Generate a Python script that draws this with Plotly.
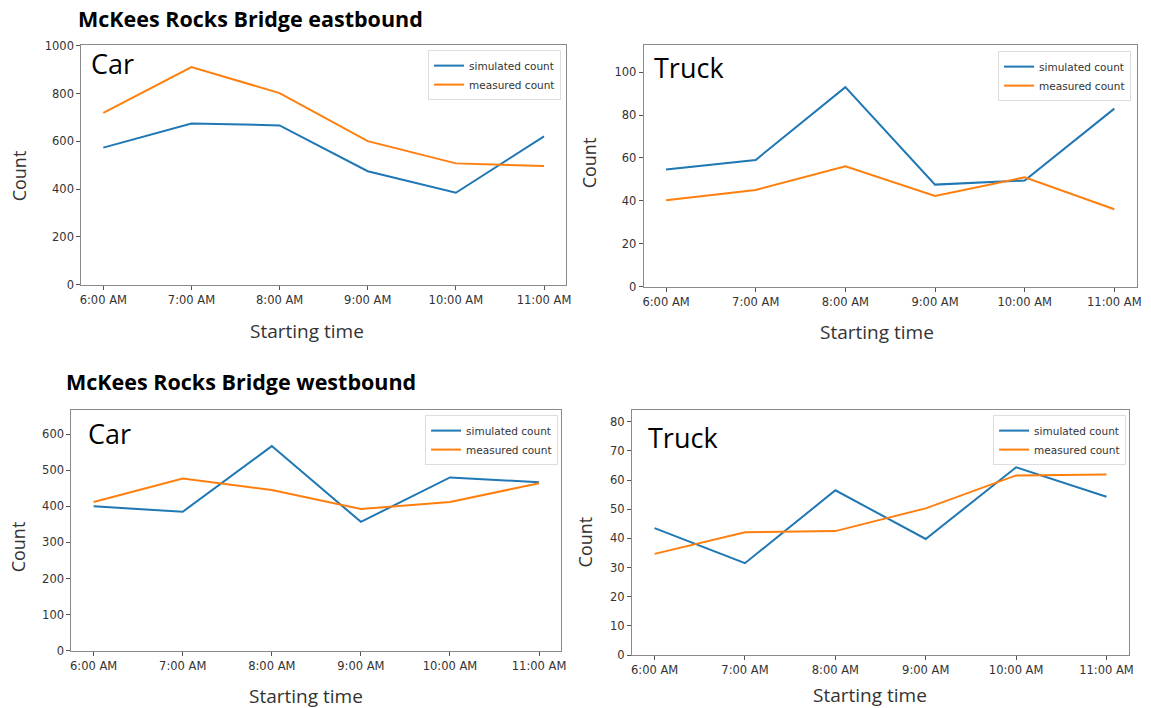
import plotly.graph_objects as go

times = ["6:00 AM", "7:00 AM", "8:00 AM", "9:00 AM", "10:00 AM", "11:00 AM"]
east_car_sim = [574, 675, 667, 475, 385, 621]
east_car_meas = [719, 911, 802, 601, 508, 497]
east_truck_sim = [54.6, 59.1, 93.0, 47.6, 49.5, 83.0]
east_truck_meas = [40.3, 45.1, 56.1, 42.3, 51.0, 36.1]
west_car_sim = [400, 385, 567, 357, 480, 467]
west_car_meas = [412, 477, 445, 393, 412, 464]
west_truck_sim = [43.5, 31.5, 56.5, 39.8, 64.4, 54.3]
west_truck_meas = [34.7, 42.1, 42.5, 50.3, 61.6, 61.9]

W, H = 1151, 708
BLUE = "#1f77b4"
ORANGE = "#ff7f0e"
TICKFONT = dict(family="DejaVu Sans", size=11.5, color="#333333")
TEXTFONT = "Open Sans"

def px_x(v):
    return v / W

def px_y(v):
    v = (v - 6) / 0.979
    return 1 - v / H

# panels: (left, top, right, bottom) in pixels, y range, dtick
panels = [
    dict(box=(80.7, 45, 568, 284), yr=[0, 1003], dt=200, sim=east_car_sim, meas=east_car_meas,
         label="Car", lab=(88, 63), count=(19, 175), st=(308, 330), leg=(563, 50)),
    dict(box=(646, 45, 1141.7, 286), yr=[0, 112.6], dt=20, sim=east_truck_sim, meas=east_truck_meas,
         label="Truck", lab=(654, 67), count=(592, 162), st=(881, 331), leg=(1136, 51)),
    dict(box=(70.7, 409, 563.3, 649), yr=[0, 666.7], dt=100, sim=west_car_sim, meas=west_car_meas,
         label="Car", lab=(85, 432), count=(18, 545), st=(307, 694), leg=(560, 414)),
    dict(box=(634.3, 409, 1134, 653.3), yr=[0, 84.0], dt=10, sim=west_truck_sim, meas=west_truck_meas,
         label="Truck", lab=(648, 436), count=(587, 540), st=(874, 693), leg=(1131, 414)),
]

fig = go.Figure()
annotations = []
layout = {}
for i, p in enumerate(panels):
    n = "" if i == 0 else str(i + 1)
    lg = "legend" if i == 0 else f"legend{i + 1}"
    l, t, r, b = p["box"]
    fig.add_trace(go.Scatter(x=times, y=p["sim"], mode="lines", name="simulated count",
                             line=dict(color=BLUE, width=2), xaxis="x" + n, yaxis="y" + n,
                             legend=lg))
    fig.add_trace(go.Scatter(x=times, y=p["meas"], mode="lines", name="measured count",
                             line=dict(color=ORANGE, width=2), xaxis="x" + n, yaxis="y" + n,
                             legend=lg))
    layout["xaxis" + n] = dict(
        domain=[px_x(l), px_x(r)], anchor="y" + n, type="category", range=[-0.25, 5.25],
        showline=True, linecolor="#8a8a8a", linewidth=1, mirror=True, showgrid=False,
        zeroline=False, ticks="outside", ticklen=4, tickcolor="#555555", tickfont=TICKFONT,
        fixedrange=True,
    )
    layout["yaxis" + n] = dict(
        domain=[px_y(b), px_y(t)], anchor="x" + n, range=p["yr"], dtick=p["dt"], tick0=0,
        showline=True, linecolor="#8a8a8a", linewidth=1, mirror=True, showgrid=False,
        zeroline=False, ticks="outside", ticklen=4, tickcolor="#555555", tickfont=TICKFONT,
        fixedrange=True,
    )
    layout[lg] = dict(
        x=px_x(p["leg"][0]), y=px_y(p["leg"][1]), xanchor="right", yanchor="top",
        xref="paper", yref="paper", bgcolor="rgba(255,255,255,0.9)", bordercolor="#dddddd",
        borderwidth=1, font=dict(family="DejaVu Sans", size=10.5, color="#333333"),
        itemwidth=30, tracegroupgap=0,
    )
    annotations.append(dict(text=p["label"], x=px_x(p["lab"][0]), y=px_y(p["lab"][1]),
                            xref="paper", yref="paper", xanchor="left", yanchor="middle",
                            showarrow=False, font=dict(family=TEXTFONT, size=27, color="#000000")))
    annotations.append(dict(text="Count", x=px_x(p["count"][0]), y=px_y(p["count"][1]),
                            xref="paper", yref="paper", xanchor="center", yanchor="middle",
                            textangle=-90, showarrow=False,
                            font=dict(family=TEXTFONT, size=18, color="#333333")))
    annotations.append(dict(text="Starting time", x=px_x(p["st"][0]), y=px_y(p["st"][1]),
                            xref="paper", yref="paper", xanchor="center", yanchor="middle",
                            showarrow=False,
                            font=dict(family=TEXTFONT, size=19, color="#333333")))

annotations.append(dict(text="<b>McKees Rocks Bridge eastbound</b>", x=px_x(75), y=px_y(18),
                        xref="paper", yref="paper", xanchor="left", yanchor="middle",
                        showarrow=False, font=dict(family=TEXTFONT, size=21.5, color="#000000")))
annotations.append(dict(text="<b>McKees Rocks Bridge westbound</b>", x=px_x(63), y=px_y(380),
                        xref="paper", yref="paper", xanchor="left", yanchor="middle",
                        showarrow=False, font=dict(family=TEXTFONT, size=21.5, color="#000000")))

fig.update_layout(**layout)
fig.update_layout(
    width=W, height=H, margin=dict(l=0, r=0, t=0, b=0),
    paper_bgcolor="white", plot_bgcolor="white",
    annotations=annotations, showlegend=True,
)
fig.write_html(
    "out.html",
    config={"displayModeBar": False},
    post_script="document.body.style.margin='0';document.body.style.overflow='hidden';",
)
